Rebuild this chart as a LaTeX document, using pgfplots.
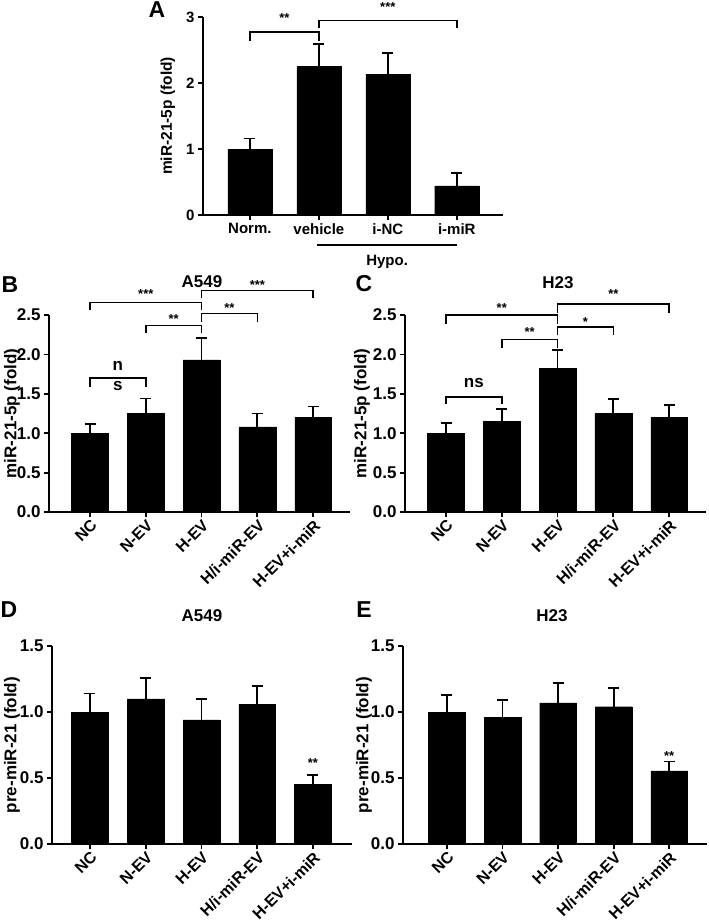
\documentclass[border=0pt]{standalone}
\usepackage{fontspec}
\setmainfont{Liberation Sans}
\usepackage{pgfplots}
\usepackage{pgfplotstable}
\pgfplotsset{compat=1.18}
\newcommand\myTf{\bfseries\fontsize{15}{16}\selectfont}
\newcommand\myTg{\bfseries\fontsize{17}{18}\selectfont}
\newcommand\myTr{\bfseries\fontsize{16}{18}\selectfont}
\newcommand\myLf{\bfseries\fontsize{15.5}{17}\selectfont}
\newcommand\myLg{\bfseries\fontsize{17}{18}\selectfont}
\newcommand\mySf{\bfseries\fontsize{13}{14}\selectfont}
\newcommand\myNf{\bfseries\fontsize{17}{18}\selectfont}
\newcommand\myTtf{\bfseries\fontsize{17}{18}\selectfont}
\newcommand\myPf{\bfseries\fontsize{23}{25}\selectfont}

\pgfplotstableread{
x y e
0 1.00 0.16
1 2.25 0.34
2 2.13 0.32
3 0.44 0.20
}\tabA
\pgfplotstableread{
x y e
0 1.00 0.12
1 1.25 0.19
2 1.93 0.28
3 1.08 0.17
4 1.20 0.14
}\tabB
\pgfplotstableread{
x y e
0 1.00 0.13
1 1.15 0.16
2 1.82 0.24
3 1.25 0.18
4 1.20 0.16
}\tabC
\pgfplotstableread{
x y e
0 1.00 0.14
1 1.10 0.16
2 0.94 0.16
3 1.06 0.14
4 0.45 0.07
}\tabD
\pgfplotstableread{
x y e
0 1.00 0.13
1 0.96 0.13
2 1.07 0.15
3 1.04 0.14
4 0.555 0.07
}\tabE

\pgfplotsset{
  mybar/.style={
    scale only axis, anchor=south west,
    axis x line*=bottom, axis y line*=left,
    axis line style={line width=1.8pt, -},
    every tick/.style={line width=1.8pt, black},
    major tick length=5pt,
    tick align=outside,
    ymin=0, clip=false,
    ybar, bar width=0.66,
    tick label style={font=\myTf},
    error bars/y dir=plus, error bars/y explicit,
    error bars/error bar style={line width=1.8pt, black},
    error bars/error mark options={rotate=90, mark size=5.5pt, line width=1.8pt, black},
  },
  fivecat/.style={
    xtick={0,1,2,3,4},
    xticklabels={NC,N-EV,H-EV,H/i-miR-EV,H-EV+i-miR},
    yticklabel style={font=\myTg},
    xticklabel style={rotate=45, anchor=north east, inner sep=1pt, font=\myTr},
  },
  ylpos/.style 2 args={every axis y label/.style={at={(axis description cs:#1,0.5)}, rotate=90, anchor=center, font=#2}},
}
\newcommand\brk[4]{\draw[line width=1.5pt] (axis cs:#1,#4) -- (axis cs:#1,#3) -- (axis cs:#2,#3) -- (axis cs:#2,#4);}

\begin{document}
\begin{tikzpicture}
\path[use as bounding box] (0pt,0pt) rectangle (709pt,-922pt);

% Panel A
\begin{axis}[mybar, at={(203pt,-215pt)}, width=300pt, height=198pt,
  xmin=-0.68, xmax=3.67, ymax=3, bar width=0.64,
  ytick={0,1,2,3}, yticklabels={0,1,2,3},
  xtick={0,1,2,3}, xticklabels={Norm.,vehicle,i-NC,i-miR},
  ylpos={-0.117}{\myLf}, ylabel={miR-21-5p (fold)}]
\addplot[fill=black, draw=black] table[x=x, y=y, y error=e] {\tabA};
\brk{0}{1}{2.77}{2.64}
\brk{1}{3}{2.95}{2.83}
\node[font=\mySf, anchor=base] at (axis cs:0.5,2.92) {**};
\node[font=\mySf, anchor=base] at (axis cs:2,3.08) {***};
\draw[line width=1.5pt] (axis cs:0.97,-0.455) -- (axis cs:3.0,-0.455);
\node[font=\myTf] at (axis cs:1.99,-0.712) {Hypo.};
\end{axis}

% Panel B
\begin{axis}[mybar, fivecat, at={(49pt,-512pt)}, width=301pt, height=197pt,
  xmin=-0.735, xmax=4.66, ymax=2.5,
  ytick={0,0.5,1,1.5,2,2.5}, yticklabels={0.0,0.5,1.0,1.5,2.0,2.5},
  ylpos={-0.123}{\myLg}, ylabel={miR-21-5p (fold)}]
\addplot[fill=black, draw=black] table[x=x, y=y, y error=e] {\tabB};
\brk{0}{1}{1.70}{1.59}
\node[font=\myNf, anchor=base] at (axis cs:0.5,1.79) {n};
\node[font=\myNf, anchor=base] at (axis cs:0.5,1.54) {s};
\brk{1}{2}{2.37}{2.27}
\node[font=\mySf, anchor=base] at (axis cs:1.5,2.39) {**};
\brk{2}{3}{2.52}{2.41}
\node[font=\mySf, anchor=base] at (axis cs:2.5,2.53) {**};
\brk{0}{2}{2.66}{2.56}
\node[font=\mySf, anchor=base] at (axis cs:1,2.71) {***};
\brk{2}{4}{2.81}{2.71}
\node[font=\mySf, anchor=base] at (axis cs:3,2.82) {***};
\end{axis}

% Panel C
\begin{axis}[mybar, fivecat, at={(405pt,-512pt)}, width=301pt, height=197pt,
  xmin=-0.735, xmax=4.66, ymax=2.5,
  ytick={0,0.5,1,1.5,2,2.5}, yticklabels={0.0,0.5,1.0,1.5,2.0,2.5},
  ylpos={-0.143}{\myLg}, ylabel={miR-21-5p (fold)}]
\addplot[fill=black, draw=black] table[x=x, y=y, y error=e] {\tabC};
\brk{0}{1}{1.46}{1.37}
\node[font=\myNf, anchor=base] at (axis cs:0.5,1.58) {ns};
\brk{1}{2}{2.19}{2.08}
\node[font=\mySf, anchor=base] at (axis cs:1.5,2.23) {**};
\brk{0}{2}{2.50}{2.38}
\node[font=\mySf, anchor=base] at (axis cs:1,2.53) {**};
\brk{2}{3}{2.35}{2.24}
\node[font=\mySf, anchor=base] at (axis cs:2.5,2.36) {*};
\brk{2}{4}{2.64}{2.52}
\node[font=\mySf, anchor=base] at (axis cs:3,2.71) {**};
\end{axis}

% Panel D
\begin{axis}[mybar, fivecat, at={(52pt,-844pt)}, width=300pt, height=198pt,
  xmin=-0.68, xmax=4.70, ymax=1.5,
  ytick={0,0.5,1,1.5}, yticklabels={0.0,0.5,1.0,1.5},
  ylpos={-0.133}{\myLg}, ylabel={pre-miR-21 (fold)}]
\addplot[fill=black, draw=black] table[x=x, y=y, y error=e] {\tabD};
\node[font=\mySf, anchor=base] at (axis cs:4,0.58) {**};
\end{axis}

% Panel E
\begin{axis}[mybar, fivecat, at={(403pt,-844pt)}, width=304pt, height=198pt,
  xmin=-0.79, xmax=4.68, ymax=1.5,
  ytick={0,0.5,1,1.5}, yticklabels={0.0,0.5,1.0,1.5},
  ylpos={-0.128}{\myLg}, ylabel={pre-miR-21 (fold)}]
\addplot[fill=black, draw=black] table[x=x, y=y, y error=e] {\tabE};
\node[font=\mySf, anchor=base] at (axis cs:4,0.63) {**};
\end{axis}

% Panel letters and titles
\node[font=\myPf] at (157pt,-9.5pt) {A};
\node[font=\myPf] at (10pt,-285pt) {B};
\node[font=\myPf] at (364pt,-284pt) {C};
\node[font=\myPf] at (9pt,-610pt) {D};
\node[font=\myPf] at (364pt,-610pt) {E};
\node[font=\myTtf] at (202pt,-281.5pt) {A549};
\node[font=\myTtf] at (558pt,-283pt) {H23};
\node[font=\myTtf] at (202pt,-616pt) {A549};
\node[font=\myTtf] at (552pt,-616pt) {H23};
\end{tikzpicture}
\end{document}
